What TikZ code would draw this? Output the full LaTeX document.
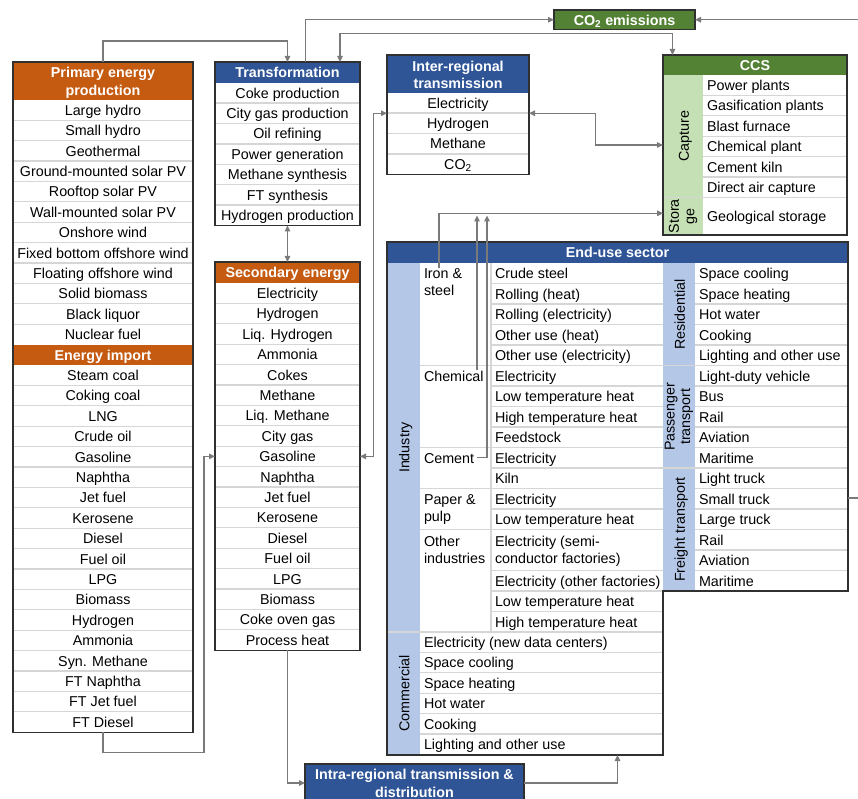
\documentclass[tikz,border=0pt]{standalone}
\usepackage{fontspec}
\setmainfont{Liberation Sans}
\usetikzlibrary{arrows.meta,calc}
\definecolor{cOrange}{HTML}{C55A11}
\definecolor{cBlue}{HTML}{2F5597}
\definecolor{cGreen}{HTML}{548235}
\definecolor{cLGreen}{HTML}{C5E0B4}
\definecolor{cLBlue}{HTML}{B4C7E7}
\definecolor{cSep}{HTML}{D6D6D6}
\definecolor{cConn}{HTML}{7A7A7A}
\definecolor{cOut}{HTML}{303030}
\begin{document}
\begin{tikzpicture}[x=1pt,y=-1pt,
  every node/.style={font=\fontsize{14.3}{16.8}\selectfont, inner sep=0pt, outer sep=0pt},
  t/.style={text height=10.6pt, text depth=0pt},
  hd/.style={font=\fontsize{14.3}{16.8}\selectfont\bfseries, text=white},
  frm/.style={anchor=north west, draw=none, inner sep=0pt, outer sep=0pt},
  sepl/.style={draw=cSep, line width=1.3pt},
  boxline/.style={draw=cOut, line width=1.4pt},
  conn/.style={draw=cConn, line width=1.3pt},
  arr/.style={-{Triangle[length=6pt,width=5.5pt]}},
  darr/.style={{Triangle[length=6pt,width=5.5pt]}-{Triangle[length=6pt,width=5.5pt]}}
]
\useasboundingbox (0,0) rectangle (858,799);
\clip (0,0) rectangle (858,799);
\fill[white] (0,0) rectangle (858,799);

% ---------- frames (for anchors) ----------
\path node[frm, minimum width=180pt, minimum height=670.2pt] (prim) at (13,62) {};
\path node[frm, minimum width=145pt, minimum height=163.5pt] (trans) at (215,62) {};
\path node[frm, minimum width=145pt, minimum height=388.2pt] (sec) at (215,262) {};
\path node[frm, minimum width=142pt, minimum height=119.3pt] (inter) at (387,55) {};
\path node[frm, minimum width=184pt, minimum height=180pt] (ccs) at (663,55) {};
\path node[frm, minimum width=461pt, minimum height=513pt] (enduse) at (387,242) {};

% ---------- fills ----------
\fill[cOrange] (13,62) rectangle (193,99.8);
\fill[cOrange] (13,344.6) rectangle (193,365);
\fill[cBlue] (215,62) rectangle (360,82.7);
\fill[cOrange] (215,262) rectangle (360,283);
\fill[cBlue] (387,55) rectangle (529,92.7);
\fill[cGreen] (663,55) rectangle (847,75);
\fill[cLGreen] (663,75) rectangle (703,235);
\fill[cBlue] (387,242) rectangle (848,263);
\fill[cLBlue] (387,263) rectangle (420,755);
\fill[cLBlue] (663,263) rectangle (695,591);

% ---------- separators ----------
\foreach \k in {1,...,11} \draw[sepl] (13,{99.8+20.4*\k}) -- (193,{99.8+20.4*\k});
\foreach \k in {14,...,30} \draw[sepl] (13,{99.8+20.4*\k}) -- (193,{99.8+20.4*\k});
\foreach \k in {1,...,6} \draw[sepl] (215,{82.7+20.4*\k}) -- (360,{82.7+20.4*\k});
\foreach \k in {1,...,17} \draw[sepl] (215,{283+20.4*\k}) -- (360,{283+20.4*\k});
\foreach \k in {1,...,3} \draw[sepl] (387,{92.7+20.4*\k}) -- (529,{92.7+20.4*\k});
\foreach \k in {1,...,5} \draw[sepl] (703,{75+20.4*\k}) -- (847,{75+20.4*\k});
\draw[sepl] (663,197.4) -- (847,197.4);
% end-use
\draw[sepl] (491,263) -- (491,632);
\foreach \k in {1,2,3,4,6,7,8,10,12,15,16,17} \draw[sepl] (491,{263+20.5*\k}) -- (663,{263+20.5*\k});
\foreach \k in {5,9,11,13} \draw[sepl] (420,{263+20.5*\k}) -- (663,{263+20.5*\k});
\draw[sepl] (387,632) -- (663,632);
\foreach \k in {1,...,5} \draw[sepl] (420,{632+20.4*\k}) -- (663,{632+20.4*\k});
\foreach \k in {5,10} \draw[sepl] (663,{263+20.5*\k}) -- (848,{263+20.5*\k});
\foreach \k in {1,2,3,4,6,7,8,9,11,12,13,14,15} \draw[sepl] (695,{263+20.5*\k}) -- (848,{263+20.5*\k});

% ---------- primary / import ----------
\node[hd, align=center, anchor=north, font=\fontsize{14.3}{17.3}\selectfont\bfseries] (primh) at (103,67.5) {Primary energy\\production};
\foreach \t [count=\i from 0] in {Large hydro, Small hydro, Geothermal, Ground-mounted solar PV, Rooftop solar PV, Wall-mounted solar PV, Onshore wind, Fixed bottom offshore wind, Floating offshore wind, Solid biomass, Black liquor, Nuclear fuel}
  \node[t] (p\i) at (103,{110+20.4*\i}) {\t};
\node[t, hd] (imph) at (103,354.8) {Energy import};
\foreach \t [count=\i from 13] in {Steam coal, Coking coal, LNG, Crude oil, Gasoline, Naphtha, Jet fuel, Kerosene, Diesel, Fuel oil, LPG, Biomass, Hydrogen, Ammonia, Syn. Methane, FT Naphtha, FT Jet fuel, FT Diesel}
  \node[t] (p\i) at (103,{110+20.4*\i}) {\t};

% ---------- transformation ----------
\node[t, hd] (transh) at (287.5,72.3) {Transformation};
\foreach \t [count=\i from 0] in {Coke production, City gas production, Oil refining, Power generation, Methane synthesis, FT synthesis, Hydrogen production}
  \node[t] (tr\i) at (287.5,{92.9+20.4*\i}) {\t};

% ---------- secondary ----------
\node[t, hd] (sech) at (287.5,272.5) {Secondary energy};
\foreach \t [count=\i from 0] in {Electricity, Hydrogen, Liq. Hydrogen, Ammonia, Cokes, Methane, Liq. Methane, City gas, Gasoline, Naphtha, Jet fuel, Kerosene, Diesel, Fuel oil, LPG, Biomass, Coke oven gas, Process heat}
  \node[t] (s\i) at (287.5,{293.2+20.4*\i}) {\t};

% ---------- inter-regional ----------
\node[hd, align=center, anchor=north, font=\fontsize{14.3}{16.7}\selectfont\bfseries] (interh) at (458,61) {Inter-regional\\transmission};
\foreach \t [count=\i from 0] in {Electricity, Hydrogen, Methane}
  \node[t] (ir\i) at (458,{102.9+20.4*\i}) {\t};
\node[t] (ir3) at (458,164.1) {CO\textsubscript{2}};

% ---------- CO2 emissions ----------
\node[frm, t, hd, anchor=center, fill=cGreen, draw=cOut, line width=1.4pt, minimum width=141pt, minimum height=19.5pt] (co2) at (624.5,19.75) {CO\textsubscript{2} emissions};

% ---------- CCS ----------
\node[t, hd] (ccsh) at (755,65) {CCS};
\node[t, rotate=90] (capt) at (683.5,136.2) {Capture};
\node[rotate=90, align=center, font=\fontsize{14.3}{15.5}\selectfont] (stor) at (683,216.2) {Stora\\ge};
\foreach \t [count=\i from 0] in {Power plants, Gasification plants, Blast furnace, Chemical plant, Cement kiln, Direct air capture}
  \node[t, anchor=west] (cc\i) at (707,{85.2+20.4*\i}) {\t};
\node[t, anchor=west] (geo) at (707,216.2) {Geological storage};

% ---------- end-use ----------
\node[t, hd] (endh) at (617.5,252.5) {End-use sector};
\node[t, rotate=90] (ind) at (404,447.5) {Industry};
\node[t, rotate=90] (com) at (404,693.5) {Commercial};
\node[t, rotate=90] (res) at (679.5,314.25) {Residential};
\node[rotate=90, align=center, font=\fontsize{14.3}{15.5}\selectfont] (pas) at (679,416.75) {Passenger\\transport};
\node[t, rotate=90] (fre) at (679.5,529.5) {Freight transport};

\node[align=left, anchor=north west, font=\fontsize{14.3}{17.4}\selectfont] (iron) at (424,268.3) {Iron \&\\steel};
\node[t, anchor=west] (chem) at (424,375.75) {Chemical};
\node[t, anchor=west] (cem) at (424,457.75) {Cement};
\node[align=left, anchor=north west, font=\fontsize{14.3}{17.4}\selectfont] (pap) at (424,494.5) {Paper \&\\pulp};
\node[align=left, anchor=north west, font=\fontsize{14.3}{17.4}\selectfont] (oth) at (424,536) {Other\\industries};

\foreach \t [count=\i from 0] in {Crude steel, Rolling (heat), Rolling (electricity), Other use (heat), Other use (electricity)}
  \node[t, anchor=west] (ei\i) at (495,{273.25+20.5*\i}) {\t};
\foreach \t [count=\i from 0] in {Electricity, Low temperature heat, High temperature heat, Feedstock}
  \node[t, anchor=west] (ec\i) at (495,{375.75+20.5*\i}) {\t};
\foreach \t [count=\i from 0] in {Electricity, Kiln}
  \node[t, anchor=west] (em\i) at (495,{457.75+20.5*\i}) {\t};
\foreach \t [count=\i from 0] in {Electricity, Low temperature heat}
  \node[t, anchor=west] (ep\i) at (495,{498.75+20.5*\i}) {\t};
\node[align=left, anchor=north west, font=\fontsize{14.3}{17.4}\selectfont] (eo0) at (495,536) {Electricity (semi-\\conductor factories)};
\foreach \t [count=\i from 1] in {Electricity (other factories), Low temperature heat, High temperature heat}
  \node[t, anchor=west] (eo\i) at (495,{560.25+20.5*\i}) {\t};
\foreach \t [count=\i from 0] in {Electricity (new data centers), Space cooling, Space heating, Hot water, Cooking, Lighting and other use}
  \node[t, anchor=west] (ecm\i) at (424,{642.2+20.4*\i}) {\t};
\foreach \t [count=\i from 0] in {Space cooling, Space heating, Hot water, Cooking, Lighting and other use, Light-duty vehicle, Bus, Rail, Aviation, Maritime, Light truck, Small truck, Large truck, Rail, Aviation, Maritime}
  \node[t, anchor=west] (er\i) at (699,{273.25+20.5*\i}) {\t};

% ---------- intra-regional ----------
\node[frm, fill=cBlue, draw=cOut, line width=1.4pt, minimum width=219pt, minimum height=51pt] (intra) at (305,764) {};
\node[hd, align=center, anchor=north, font=\fontsize{14.3}{18}\selectfont\bfseries] (intrat) at (414.5,769) {Intra-regional transmission \&\\distribution};

% ---------- outlines ----------
\draw[boxline] (prim.north west) rectangle (prim.south east);
\draw[boxline] (trans.north west) rectangle (trans.south east);
\draw[boxline] (sec.north west) rectangle (sec.south east);
\draw[boxline] (inter.north west) rectangle (inter.south east);
\draw[boxline] (ccs.north west) rectangle (ccs.south east);
\draw[boxline] (387,242) -- (848,242) -- (848,591) -- (663,591) -- (663,755) -- (387,755) -- cycle;

% ---------- connectors ----------
\coordinate (edgeA) at (858,19.75);
\coordinate (edgeB) at (858,498);
\coordinate (jc) at (477,215.5);
\coordinate (jm) at (487,215.5);
\draw[conn,arr] (prim.north) -- ++(0,-21) -| (trans.north);
\draw[conn,arr] ($(trans.north)+(18,0)$) |- (co2.west);
\draw[conn,darr] ($(trans.north)+(52.5,0)$) -- ++(0,-28.7) -| ($(ccs.north west)+(9.5,0)$);
\draw[conn,arr] (edgeA) -- (co2.east);
\draw[conn] ($(enduse.north east)+(0,256)$) -- (edgeB);
\draw[conn,darr] (trans.south) -- (sec.north);
\draw[conn,darr] ($(inter.north west)+(142,58.3)$) -- ++(66.5,0) |- ($(ccs.north west)+(0,90)$);
\draw[conn,darr] (sec.east |- s8) -- ++(13.3,0) |- ($(inter.north west)+(0,58.3)$);
\draw[conn,arr] (prim.south) -- ++(0,20) -| ($(sec.west |- s8)+(-11,0)$) -- (sec.west |- s8);
\draw[conn,arr] (sec.south) |- ($(intra.north west)+(0,19)$);
\draw[conn,arr] ($(intra.north east)+(0,19)$) -| ($(enduse.south west)+(230.5,0)$);
\draw[conn,arr] ($(iron.north west)+(15,0)$) |- ($(ccs.south west)+(0,-21.7)$);
\draw[conn,arr] ($(chem.north west)+(53,0)$) -- (jc);
\draw[conn,arr] ($(cem.east)+(3,0)$) -| (jm);
\end{tikzpicture}
\end{document}
